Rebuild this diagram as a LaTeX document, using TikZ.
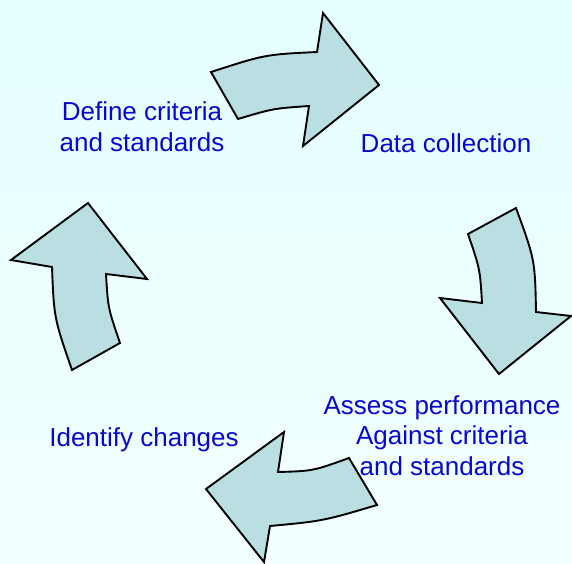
\documentclass[tikz,border=0pt]{standalone}
\usepackage{fontspec}
\setmainfont{Liberation Sans}
\usepackage{tikz}
\usepackage{xcolor}
\definecolor{labelblue}{RGB}{8,8,204}
\definecolor{arrowfill}{RGB}{185,223,226}
\definecolor{bgtop}{RGB}{228,255,255}
\definecolor{bgbottom}{RGB}{244,255,255}

\begin{document}
\begin{tikzpicture}[x=1pt, y=-1pt,
    cyclearrow/.style={draw=black, line width=1.9pt, line join=miter, fill=arrowfill},
    steplabel/.style={text=labelblue, font=\fontsize{26}{30.5}\selectfont, align=center, inner sep=0pt, anchor=base}]
    % Background
    \fill[top color=bgtop, bottom color=bgbottom] (0,0) rectangle (572,563);
    \useasboundingbox (0,0) rectangle (572,563);

    % Arrows
    \draw[cyclearrow] (211,72) .. controls (265,54.5) .. (317,52) -- (323,13) -- (379,85) -- (303,146)
        -- (309,106) .. controls (273,108.5) .. (238,119) -- cycle;
    \draw[cyclearrow] (516,208) .. controls (535,260) .. (536,312) -- (571,316) -- (499,374) -- (440,298)
        -- (482,303) .. controls (480,269) .. (468,234) -- cycle;
    \draw[cyclearrow] (377,505) .. controls (323,521) .. (270,526) -- (264,562) -- (206,489) -- (284,432)
        -- (278,472) .. controls (313,471) .. (349,458) -- cycle;
    \draw[cyclearrow] (72,370) .. controls (54,318) .. (52,267) -- (11,260) -- (88,203) -- (147,279)
        -- (106,274) .. controls (108,308) .. (120,343) -- cycle;

    % Labels (base = last line)
    \node[steplabel] (define) at (142,151) {Define criteria\\and standards};
    \node[steplabel] (collect) at (446,152) {Data collection};
    \node[steplabel] (assess) at (442,475) {Assess performance\\Against criteria\\and standards};
    \node[steplabel] (identify) at (144,446) {Identify changes};
\end{tikzpicture}
\end{document}
